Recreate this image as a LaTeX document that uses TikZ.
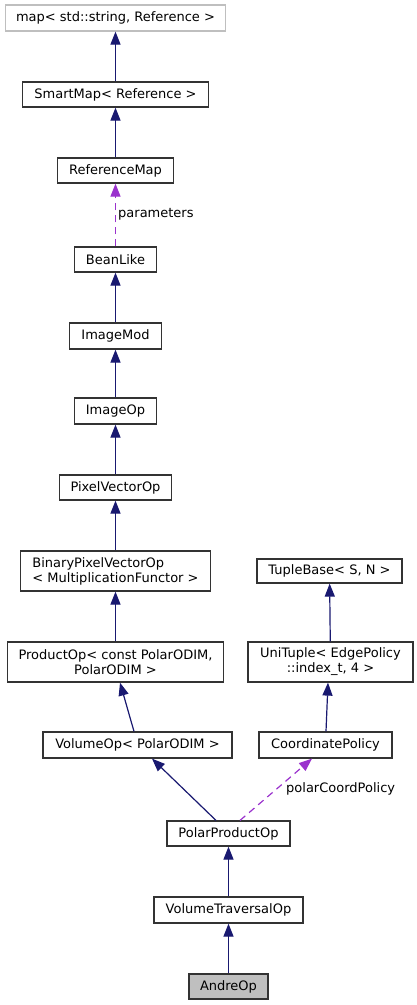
\documentclass[tikz,border=0pt]{standalone}
\usepackage{fontspec}
\setmainfont{DejaVu Sans}
\usetikzlibrary{arrows.meta}
\definecolor{edgeblue}{HTML}{191970}
\definecolor{edgepurple}{HTML}{9A32CD}
\definecolor{boxline}{HTML}{333333}
\definecolor{graybox}{HTML}{BFBFBF}
\begin{document}
\begin{tikzpicture}[x=1pt,y=-1pt,
  box/.style={draw=boxline,line width=1.2pt,fill=white,inner sep=0pt,align=center,font=\fontsize{13}{15}\selectfont},
  inh/.style={draw=edgeblue,line width=1.2pt,-{Triangle[length=13pt,width=10pt]}},
  usage/.style={draw=edgepurple,line width=1.2pt,dash pattern=on 7pt off 5pt,-{Triangle[length=13pt,width=10pt]}},
  lbl/.style={font=\fontsize{13}{15}\selectfont,inner sep=0pt,anchor=west}]
\useasboundingbox (0,0) rectangle (417,1005);
\node[box,draw=graybox,minimum width=220pt,minimum height=26pt] (map) at (115.5,18) {map< std::string, Reference >};
\node[box,minimum width=186pt,minimum height=25pt] (smart) at (115.5,94.5) {SmartMap< Reference >};
\node[box,minimum width=116pt,minimum height=25pt] (refmap) at (115.5,170.5) {ReferenceMap};
\node[box,minimum width=82pt,minimum height=25pt] (bean) at (115.5,259.5) {BeanLike};
\node[box,minimum width=92pt,minimum height=26pt] (imod) at (115.5,336) {ImageMod};
\node[box,minimum width=82pt,minimum height=26pt] (iop) at (115.5,411) {ImageOp};
\node[box,minimum width=112pt,minimum height=25pt] (pvo) at (115.5,487.5) {PixelVectorOp};
\node[box,align=left,minimum width=190pt,minimum height=40pt] (bpvo) at (115.5,571) {BinaryPixelVectorOp\\< MultiplicationFunctor >};
\node[box,minimum width=216pt,minimum height=40pt] (prod) at (115.5,662) {ProductOp< const PolarODIM,\\PolarODIM >};
\node[box,minimum width=189pt,minimum height=26pt] (vol) at (137.5,745) {VolumeOp< PolarODIM >};
\node[box,minimum width=145pt,minimum height=24pt] (tb) at (329.5,571) {TupleBase< S, N >};
\node[box,minimum width=165pt,minimum height=40pt] (uni) at (330.5,662) {UniTuple< EdgePolicy\\::index\_t, 4 >};
\node[box,minimum width=133pt,minimum height=26pt] (coord) at (325.5,745) {CoordinatePolicy};
\node[box,minimum width=123pt,minimum height=25pt] (ppo) at (228.5,833.5) {PolarProductOp};
\node[box,minimum width=149pt,minimum height=26pt] (vto) at (228.5,910) {VolumeTraversalOp};
\node[box,fill=graybox,minimum width=79pt,minimum height=25pt] (andre) at (228.5,986.5) {AndreOp};

\draw[inh] (smart) -- (map);
\draw[inh] (refmap) -- (smart);
\draw[usage] (bean) -- (refmap);
\draw[inh] (imod) -- (bean);
\draw[inh] (iop) -- (imod);
\draw[inh] (pvo) -- (iop);
\draw[inh] (bpvo) -- (pvo);
\draw[inh] (prod) -- (bpvo);
\draw[inh] ([xshift=-3.5pt]vol.north) -- ([xshift=4.5pt]prod.south);
\draw[inh] (uni) -- (tb);
\draw[inh] ([xshift=0.5pt]coord.north) -- ([xshift=-2.5pt]uni.south);
\draw[inh] ([xshift=-12.5pt]ppo.north) -- ([xshift=14.5pt]vol.south);
\draw[usage] ([xshift=11.5pt]ppo.north) -- ([xshift=-13.5pt]coord.south);
\draw[inh] (vto) -- (ppo);
\draw[inh] (andre) -- (vto);

\node[lbl] (lparam) at (118,214) {parameters};
\node[lbl] (lpolar) at (286,789) {polarCoordPolicy};
\end{tikzpicture}
\end{document}
